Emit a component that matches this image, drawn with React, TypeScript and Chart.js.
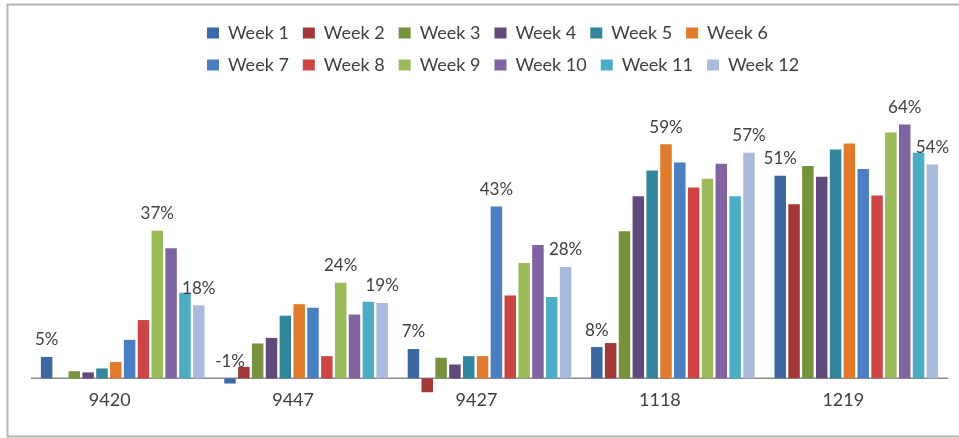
import React, { useEffect, useRef } from 'react';
import { Chart, registerables, Legend } from 'chart.js';

Chart.register(...registerables);

// Let the legend wrap its rows at a chosen width and start column (Excel lays it out in 6 columns)
const LegendElement: any = (Legend as any)._element;
if (LegendElement && !LegendElement.prototype.__wrapPatched) {
  const origFitRows = LegendElement.prototype._fitRows;
  LegendElement.prototype._fitRows = function (...args: any[]) {
    const wrap = this.options && this.options.wrapWidth;
    if (!wrap) return origFitRows.apply(this, args);
    const saved = this.maxWidth;
    this.maxWidth = Math.min(wrap, saved);
    const r = origFitRows.apply(this, args);
    this.maxWidth = saved;
    return r;
  };
  const origDraw = LegendElement.prototype._draw;
  LegendElement.prototype._draw = function (...args: any[]) {
    const wrap = this.options && this.options.wrapWidth;
    if (!wrap) return origDraw.apply(this, args);
    const l = this.left;
    const r = this.right;
    const startLeft = this.options.wrapLeft;
    const newLeft = typeof startLeft === 'number' ? startLeft : (l + r) / 2 - wrap / 2;
    this.left = newLeft;
    this.right = newLeft + wrap;
    try {
      return origDraw.apply(this, args);
    } finally {
      this.left = l;
      this.right = r;
    }
  };
  LegendElement.prototype.__wrapPatched = true;
}

// Categories (x axis)
const categories = ['9420', '9447', '9427', '1118', '1219'];

// Series names
const weekNames = ['Week 1', 'Week 2', 'Week 3', 'Week 4', 'Week 5', 'Week 6', 'Week 7', 'Week 8', 'Week 9', 'Week 10', 'Week 11', 'Week 12'];

// Values (%) per week, across categories
const week1 = [5.4, -1.3, 7.4, 7.9, 51.1];
const week2 = [0, 2.9, -3.5, 8.9, 43.9];
const week3 = [1.8, 8.8, 5.2, 37.1, 53.5];
const week4 = [1.5, 10.2, 3.5, 45.9, 50.8];
const week5 = [2.5, 15.8, 5.6, 52.4, 57.7];
const week6 = [4.1, 18.7, 5.6, 59.0, 59.2];
const week7 = [9.7, 17.8, 43.3, 54.4, 52.8];
const week8 = [14.7, 5.6, 20.9, 48.1, 46.1];
const week9 = [37.2, 24.1, 29.1, 50.3, 62.0];
const week10 = [32.8, 16.1, 33.6, 54.1, 64.0];
const week11 = [21.6, 19.3, 20.5, 45.9, 56.9];
const week12 = [18.4, 19.0, 28.1, 56.9, 53.9];

const weekValues = [week1, week2, week3, week4, week5, week6, week7, week8, week9, week10, week11, week12];

// Which weeks carry a value label, per category (week index, 0-based)
const labeledWeeks = [[0, 8, 11], [0, 8, 11], [0, 6, 11], [0, 5, 11], [0, 9, 11]];

const weekColors = ['#3c68a4', '#a33838', '#76923c', '#604a7b', '#31869b', '#e07b2c', '#4a7fc1', '#cc4646', '#9bbb59', '#8064a2', '#4bacc6', '#a9bbdc'];

const FONT = 'Lato, "Open Sans", sans-serif';
const TEXT = '#404040';

const framePlugin = {
  id: 'frame',
  beforeDraw(chart: any) {
    const ctx = chart.ctx;
    ctx.save();
    ctx.strokeStyle = '#b4b4b4';
    ctx.lineWidth = 2;
    ctx.beginPath();
    ctx.moveTo(chart.width, 4.5);
    ctx.lineTo(7.5, 4.5);
    ctx.lineTo(7.5, 436.5);
    ctx.lineTo(chart.width, 436.5);
    ctx.stroke();
    ctx.restore();
  },
};

const zeroLinePlugin = {
  id: 'zeroLine',
  beforeDatasetsDraw(chart: any) {
    const { ctx, chartArea, scales } = chart;
    const y = scales.y.getPixelForValue(0);
    ctx.save();
    ctx.strokeStyle = '#8c8c8c';
    ctx.lineWidth = 1.5;
    ctx.beginPath();
    ctx.moveTo(chartArea.left, y);
    ctx.lineTo(chartArea.right, y);
    ctx.stroke();
    ctx.restore();
  },
};

const valueLabelPlugin = {
  id: 'valueLabels',
  afterDatasetsDraw(chart: any) {
    const { ctx, scales } = chart;
    const zero = scales.y.getPixelForValue(0);
    ctx.save();
    ctx.font = '17px ' + FONT;
    ctx.fillStyle = TEXT;
    ctx.textAlign = 'center';
    ctx.textBaseline = 'middle';
    labeledWeeks.forEach((weeks, ci) => {
      weeks.forEach((wi) => {
        const meta = chart.getDatasetMeta(wi);
        const bar = meta.data[ci];
        if (!bar) return;
        const v = weekValues[wi][ci];
        const top = Math.min(bar.y, zero);
        ctx.fillText(Math.round(v) + '%', bar.x, top - 17);
      });
    });
    ctx.restore();
  },
};

export default function App() {
  const ref = useRef<HTMLCanvasElement | null>(null);

  useEffect(() => {
    if (!ref.current) return;
    const chart = new Chart(ref.current, {
      type: 'bar',
      data: {
        labels: categories,
        datasets: weekNames.map((name, i) => ({
          label: name,
          data: weekValues[i],
          backgroundColor: weekColors[i],
          borderWidth: 0,
          categoryPercentage: 0.905,
          barPercentage: 0.83,
          clip: false as any,
        })),
      },
      options: {
        responsive: false,
        animation: false,
        layout: { padding: { top: 10, left: 31, right: 11, bottom: 27 } },
        plugins: {
          legend: {
            display: true,
            position: 'top',
            align: 'start',
            wrapWidth: 650,
            wrapLeft: 193,
            labels: {
              font: { family: FONT, size: 18 },
              color: TEXT,
              boxWidth: 12,
              boxHeight: 11,
              padding: 14,
            },
          } as any,
          tooltip: { enabled: false },
          title: { display: false },
        },
        scales: {
          x: {
            grid: { display: false, drawTicks: false },
            border: { display: false },
            ticks: { font: { family: FONT, size: 18 }, color: TEXT, padding: 0, labelOffset: -13 },
          },
          y: {
            display: false,
            min: -2.78,
            max: 74.2,
          },
        },
      },
      plugins: [framePlugin, zeroLinePlugin, valueLabelPlugin],
    });
    return () => chart.destroy();
  }, []);

  return (
    <div style={{ position: 'absolute', left: 0, top: 0, width: 959, height: 438, background: '#fff' }}>
      <canvas ref={ref} width={959} height={438} style={{ width: 959, height: 438, display: 'block' }} />
    </div>
  );
}
